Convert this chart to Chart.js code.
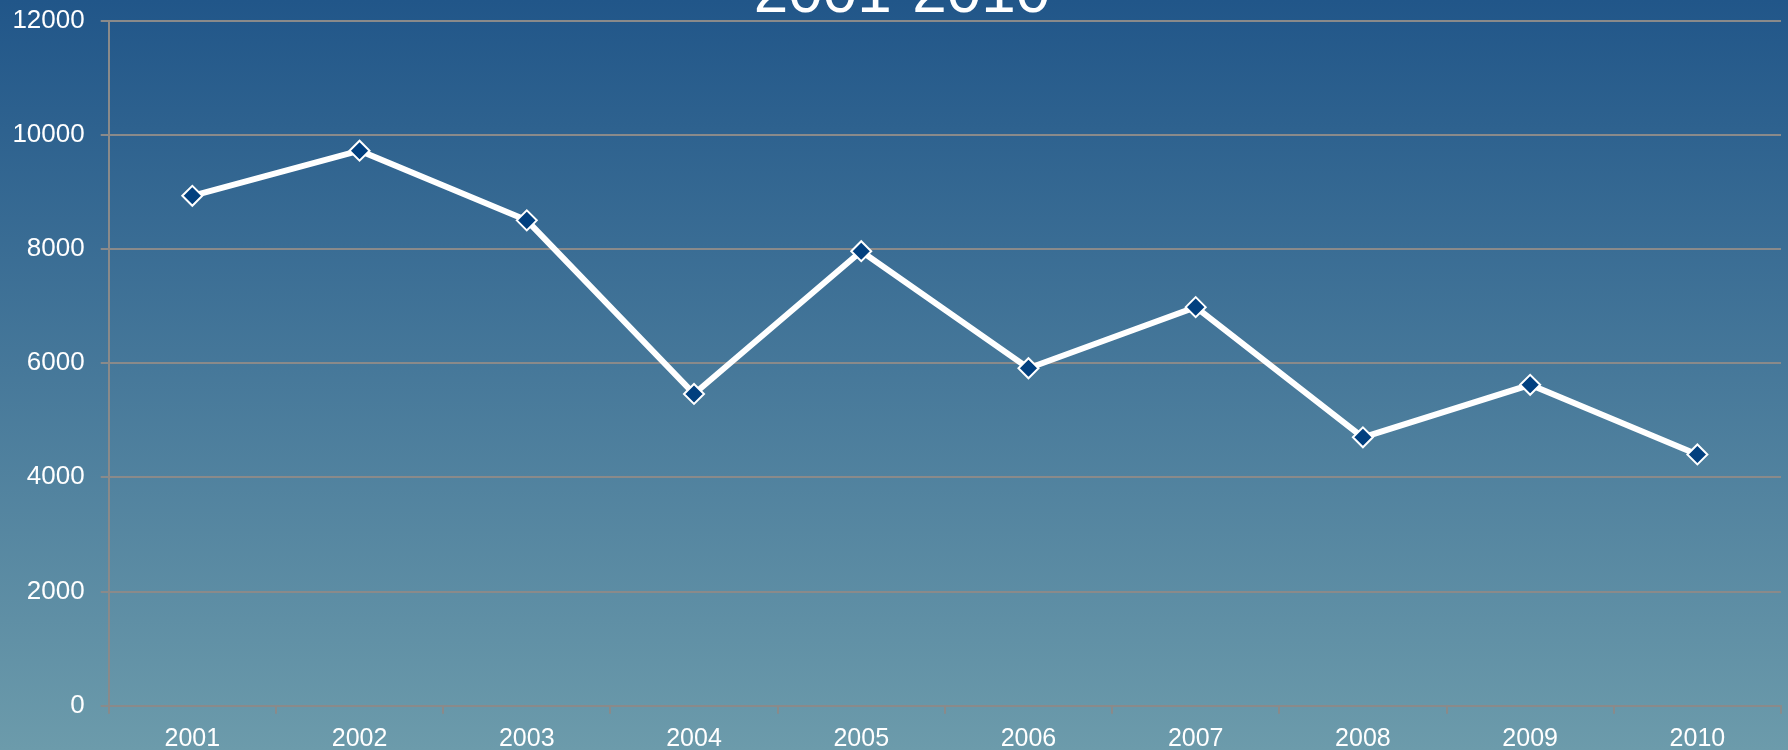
<!DOCTYPE html>
<html>
<head>
<meta charset="utf-8">
<script src="https://cdn.jsdelivr.net/npm/chart.js@4.4.1/dist/chart.umd.min.js"></script>
<style>
  body { margin: 0; padding: 0; overflow: hidden; }
  #wrap { width: 1788px; height: 750px; background: linear-gradient(to bottom, #215689 0%, #6c9bab 100%); }
</style>
</head>
<body>
<div id="wrap"><canvas id="myChart" width="1788" height="750"></canvas></div>
<script>
var titleText = "2001-2010";
var years = ["2001", "2002", "2003", "2004", "2005", "2006", "2007", "2008", "2009", "2010"];
var counts = [8930, 9720, 8500, 5460, 7960, 5910, 6980, 4700, 5620, 4400];
var yTicks = [0, 2000, 4000, 6000, 8000, 10000, 12000];

var gridColor = "#8a8a8a";

// title sits mostly above the top of the picture
var topTitle = {
    id: "topTitle",
    afterDraw: function(chart) {
        var ctx = chart.ctx;
        ctx.save();
        ctx.font = "62px 'Liberation Sans', Arial, sans-serif";
        ctx.fillStyle = "#ffffff";
        ctx.textAlign = "center";
        ctx.textBaseline = "alphabetic";
        ctx.fillText(titleText, 902, 12);
        ctx.restore();
    }
};

const ctx = document.getElementById('myChart');
const myChart = new Chart(ctx, {
    type: 'line',
    data: {
        labels: years,
        datasets: [{
            label: 'Total',
            data: counts,
            borderColor: '#ffffff',
            borderWidth: 6,
            pointStyle: 'rectRot',
            pointRadius: 10,
            pointHoverRadius: 10,
            pointBackgroundColor: '#02407f',
            pointBorderColor: '#ffffff',
            pointBorderWidth: 2,
            tension: 0
        }]
    },
    options: {
        responsive: false,
        animation: false,
        layout: {
            autoPadding: false,
            padding: { left: -3.6, right: 7, top: 20.5, bottom: -13.7 }
        },
        plugins: {
            legend: { display: false },
            tooltip: { enabled: false }
        },
        scales: {
            x: {
                offset: true,
                grid: {
                    offset: true,
                    drawOnChartArea: false,
                    drawTicks: true,
                    tickLength: 8,
                    color: gridColor,
                    lineWidth: 2
                },
                border: { color: gridColor, width: 2 },
                ticks: {
                    color: '#ffffff',
                    padding: 10,
                    maxRotation: 0,
                    font: { family: "'Liberation Sans', Arial, sans-serif", size: 25 }
                }
            },
            y: {
                min: 0,
                max: 12000,
                afterBuildTicks: function(axis) {
                    axis.ticks = yTicks.map(function(v) { return { value: v }; });
                },
                grid: {
                    color: gridColor,
                    lineWidth: 2,
                    tickLength: 8
                },
                border: { color: gridColor, width: 2 },
                ticks: {
                    color: '#ffffff',
                    padding: 16,
                    callback: function(value) { return String(value); },
                    font: { family: "'Liberation Sans', Arial, sans-serif", size: 26, lineHeight: 0.3 }
                }
            }
        }
    },
    plugins: [topTitle]
});
</script>
</body>
</html>
